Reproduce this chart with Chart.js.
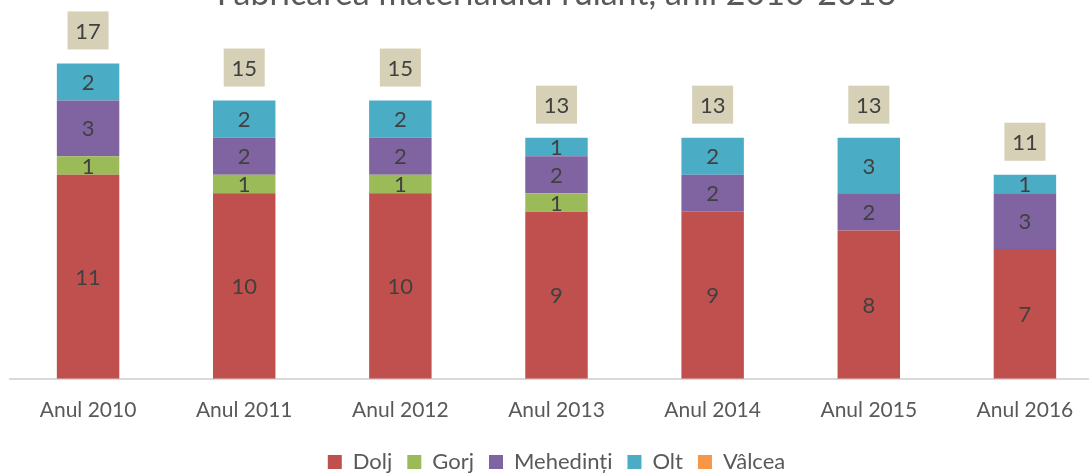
<!DOCTYPE html>
<html>
<head>
<meta charset="utf-8">
<script src="https://cdn.jsdelivr.net/npm/chart.js@4"></script>
<style>
  html, body { margin: 0; padding: 0; background: #fff; overflow: hidden; }
  #wrap { position: absolute; left: 0; top: -26px; width: 1110px; height: 501px; }
</style>
</head>
<body>
<div id="wrap"><canvas id="chart"></canvas></div>
<script>
const years = ["Anul 2010", "Anul 2011", "Anul 2012", "Anul 2013", "Anul 2014", "Anul 2015", "Anul 2016"];
const dolj = [11, 10, 10, 9, 9, 8, 7];
const gorj = [1, 1, 1, 1, 0, 0, 0];
const mehedinti = [3, 2, 2, 2, 2, 2, 3];
const olt = [2, 2, 2, 1, 2, 3, 1];
const valcea = [0, 0, 0, 0, 0, 0, 0];
const totals = [17, 15, 15, 13, 13, 13, 11];

const FONT = "Lato, 'Open Sans', sans-serif";

// numbers inside segments + total boxes above bars
const labelsPlugin = {
    id: "labels",
    afterDatasetsDraw(chart) {
        const ctx = chart.ctx;
        ctx.save();
        ctx.font = "22px " + FONT;
        ctx.fillStyle = "#404040";
        ctx.textAlign = "center";
        ctx.textBaseline = "middle";
        chart.data.datasets.forEach((ds, i) => {
            const meta = chart.getDatasetMeta(i);
            meta.data.forEach((bar, j) => {
                const v = ds.data[j];
                if (!v) return;
                ctx.fillText(String(v), bar.x, (bar.y + bar.base) / 2 + 1);
            });
        });

        const y = chart.scales.y;
        const x = chart.scales.x;
        totals.forEach((t, j) => {
            const cx = x.getPixelForValue(j);
            const top = y.getPixelForValue(t);
            const w = 41, h = 38;
            ctx.fillStyle = "#d6d0b7";
            ctx.fillRect(cx - w / 2, top - 14 - h, w, h);
            ctx.fillStyle = "#404040";
            ctx.fillText(String(t), cx, top - 14 - h / 2 + 1);
        });
        ctx.restore();
    }
};

new Chart(document.getElementById("chart"), {
    type: "bar",
    data: {
        labels: years,
        datasets: [
            { label: "Dolj", data: dolj, backgroundColor: "#c0504d" },
            { label: "Gorj", data: gorj, backgroundColor: "#9bbb59" },
            { label: "Mehedinți", data: mehedinti, backgroundColor: "#8064a2" },
            { label: "Olt", data: olt, backgroundColor: "#4bacc6" },
            { label: "Vâlcea", data: valcea, backgroundColor: "#f79646" }
        ]
    },
    options: {
        responsive: true,
        maintainAspectRatio: false,
        animation: false,
        datasets: { bar: { barPercentage: 0.8, categoryPercentage: 0.5 } },
        layout: { padding: { left: 10, right: 7, top: 0, bottom: -8 } },
        plugins: {
            title: {
                display: true,
                text: "Fabricarea materialului rulant, anii 2010-2016",
                color: "#595959",
                font: { family: FONT, size: 34, weight: "normal" },
                padding: { top: 0, bottom: -7 }
            },
            legend: {
                position: "bottom",
                labels: {
                    color: "#595959",
                    font: { family: FONT, size: 22 },
                    boxWidth: 14,
                    boxHeight: 14,
                    padding: 15
                }
            },
            tooltip: { enabled: false }
        },
        scales: {
            x: {
                stacked: true,
                grid: { display: false },
                border: { color: "#d9d9d9", width: 2 },
                ticks: { color: "#595959", font: { family: FONT, size: 21 }, padding: 11 },
                afterFit(scale) { scale.height += 2; }
            },
            y: {
                stacked: true,
                display: false,
                min: 0,
                max: 20
            }
        }
    },
    plugins: [labelsPlugin]
});
</script>
</body>
</html>
